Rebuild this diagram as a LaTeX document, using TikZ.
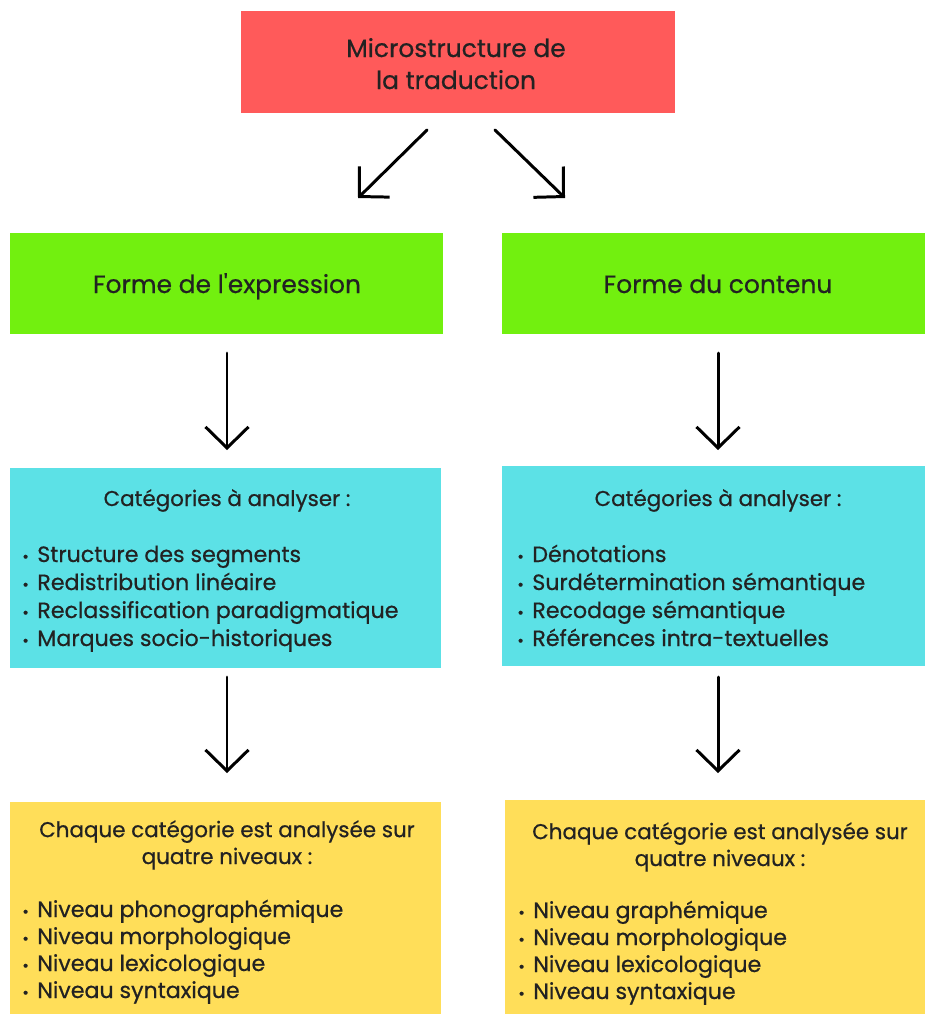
\documentclass[tikz,border=0pt]{standalone}
\usepackage{fontspec}
\setmainfont{Poppins}[FakeBold=0.6]
\usetikzlibrary{arrows.meta}
\definecolor{micro}{HTML}{FF5A5A}
\definecolor{forme}{HTML}{72F00F}
\definecolor{categ}{HTML}{5CE1E6}
\definecolor{niveau}{HTML}{FFDE59}
\definecolor{ink}{HTML}{222222}
\newcommand\puce{\makebox[0.3cm][l]{\fontsize{9}{9}\selectfont•}}

\begin{document}
\begin{tikzpicture}[x=0.02cm, y=-0.02cm, text=ink,
  box/.style={rectangle, inner sep=0pt, align=center, font=\fontsize{14.2}{18.2}\selectfont},
  head/.style={anchor=base, inner sep=0pt, align=center, font=\fontsize{12.2}{15.3}\selectfont},
  item/.style={anchor=base west, inner sep=0pt, font=\fontsize{12.6}{15}\selectfont},
  arr/.style={-{Straight Barb[length=0.42cm, width=0.86cm]}, line width=1.7pt, line cap=round}]
  \fill[white] (0,0) rectangle (925,1014);
  \useasboundingbox (0,0) rectangle (925,1014);

  \node[box, fill=micro, minimum width=8.68cm, minimum height=2.04cm] (micro) at (458,62) {};
  \node[box, anchor=base] (titre) at (456,89) {Microstructure de\\la traduction};
  \node[box, fill=forme, minimum width=8.66cm, minimum height=2.02cm] (expr) at (226.5,283.5) {};
  \node[box, fill=forme, minimum width=8.46cm, minimum height=2.02cm] (cont) at (713.5,283.5) {};
  \node[box, anchor=base] (texpr) at (227,293) {Forme de l\textquotesingle expression};
  \node[box, anchor=base] (tcont) at (718,293) {Forme du contenu};
  \node[box, fill=categ, minimum width=8.62cm, minimum height=4cm] (catL) at (225.5,568) {};
  \node[box, fill=categ, minimum width=8.46cm, minimum height=4cm] (catR) at (713.5,566) {};
  \node[box, fill=niveau, minimum width=8.62cm, minimum height=4.24cm] (nivL) at (225.5,908) {};
  \node[box, fill=niveau, minimum width=8.4cm, minimum height=4.28cm] (nivR) at (715,907) {};

  % categories
  \node[head] (hcatL) at (227,506) {Catégories à analyser :};
  \node[head] (hcatR) at (718,506) {Catégories à analyser :};
  \foreach \t [count=\i] in {Structure des segments, Redistribution linéaire, Reclassification paradigmatique, Marques socio-historiques}
    \node[item] (cL\i) at (22,534+28*\i) {\puce\t};
  \foreach \t [count=\i] in {Dénotations, Surdétermination sémantique, Recodage sémantique, Références intra-textuelles}
    \node[item] (cR\i) at (517,534+28*\i) {\puce\t};

  % niveaux
  \node[head] (hnivL) at (227,864) {Chaque catégorie est analysée sur\\quatre niveaux :};
  \node[head] (hnivR) at (720,866) {Chaque catégorie est analysée sur\\quatre niveaux :};
  \foreach \t [count=\i] in {Niveau phonographémique, Niveau morphologique, Niveau lexicologique, Niveau syntaxique}
    \node[item] (nL\i) at (22,890+27*\i) {\puce\t};
  \foreach \t [count=\i] in {Niveau graphémique, Niveau morphologique, Niveau lexicologique, Niveau syntaxique}
    \node[item] (nR\i) at (518,891+27*\i) {\puce\t};

  % fleches
  \coordinate (a1) at (427,130); \coordinate (b1) at (358,198);
  \coordinate (a2) at (495,130); \coordinate (b2) at (565,198);
  \coordinate (a3) at (227,353); \coordinate (b3) at (227,450);
  \coordinate (a4) at (718,353); \coordinate (b4) at (718,450);
  \coordinate (a5) at (227,677); \coordinate (b5) at (227,773);
  \coordinate (a6) at (718,677); \coordinate (b6) at (718,773);
  \foreach \i in {1,...,6}
    \draw[arr] (a\i) -- (b\i);
\end{tikzpicture}
\end{document}
